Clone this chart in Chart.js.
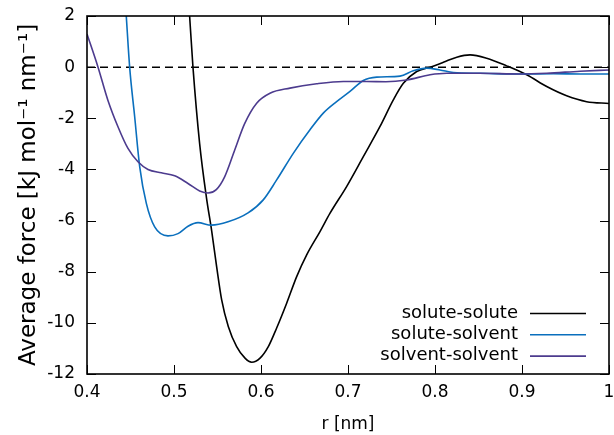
<!DOCTYPE html>
<html><head><meta charset="utf-8">
<script src="https://cdn.jsdelivr.net/npm/chart.js@4"></script>
<style>html,body{margin:0;padding:0;background:#fff}#wrap{width:614px;height:435px}</style>
</head><body><div id="wrap"><canvas id="c" width="614" height="435"></canvas></div>
<script>
const soluteSoluteX = [0.5145, 0.518, 0.5218, 0.5295, 0.5373, 0.5433, 0.549, 0.5548, 0.5624, 0.572, 0.5816, 0.5893, 0.5989, 0.6084, 0.618, 0.6295, 0.641, 0.6525, 0.6678, 0.6792, 0.6984, 0.7176, 0.7368, 0.7521, 0.7636, 0.779, 0.7943, 0.8096, 0.825, 0.8403, 0.8594, 0.8824, 0.9054, 0.9284, 0.9513, 0.9743, 1.0];
const soluteSoluteY = [3.5, 1.97, 0.0, -3.0, -5.1, -6.4, -7.8, -9.1, -10.14, -10.93, -11.38, -11.54, -11.38, -10.93, -10.2, -9.23, -8.19, -7.34, -6.43, -5.72, -4.67, -3.5, -2.32, -1.28, -0.63, -0.17, 0.0, 0.19, 0.39, 0.48, 0.35, 0.05, -0.3, -0.76, -1.12, -1.35, -1.42];
const soluteSolventX = [0.4415, 0.4452, 0.449, 0.4548, 0.4606, 0.4682, 0.4778, 0.4931, 0.5046, 0.5161, 0.5276, 0.5429, 0.5621, 0.5851, 0.6026, 0.618, 0.6371, 0.6563, 0.6716, 0.6869, 0.7023, 0.7176, 0.733, 0.7598, 0.775, 0.7904, 0.8057, 0.8211, 0.8517, 0.8977, 0.936, 0.9667, 1.0];
const soluteSolventY = [3.9, 1.97, 0.01, -1.94, -3.9, -5.33, -6.25, -6.6, -6.51, -6.22, -6.08, -6.18, -6.05, -5.7, -5.19, -4.41, -3.37, -2.45, -1.8, -1.35, -0.95, -0.52, -0.39, -0.35, -0.14, -0.04, -0.11, -0.21, -0.24, -0.27, -0.26, -0.27, -0.27];
const solventSolventX = [0.400, 0.4126, 0.424, 0.4356, 0.4471, 0.4586, 0.4701, 0.4854, 0.5008, 0.5161, 0.5295, 0.5391, 0.5486, 0.5582, 0.5697, 0.5812, 0.595, 0.6103, 0.6333, 0.664, 0.6946, 0.7215, 0.7436, 0.7674, 0.7943, 0.8134, 0.8517, 0.8977, 0.9284, 0.9667, 1.0];
const solventSolventY = [1.3, 0.01, -1.29, -2.33, -3.18, -3.7, -4.0, -4.13, -4.25, -4.55, -4.84, -4.92, -4.79, -4.29, -3.25, -2.21, -1.41, -1.02, -0.82, -0.65, -0.56, -0.56, -0.57, -0.5, -0.3, -0.24, -0.24, -0.27, -0.24, -0.16, -0.11];
const zeroLineX = [0.4, 1.0];
const zeroLineY = [0, 0];
const xTicks = [0.4, 0.5, 0.6, 0.7, 0.8, 0.9, 1.0];
const yTicks = [2, 0, -2, -4, -6, -8, -10, -12];
const seriesLabels = ['solute-solute', 'solute-solvent', 'solvent-solvent'];
const seriesColors = ['#000000', '#0a6fbd', '#4c3b8e'];

const pts = (xs, ys) => xs.map((x, i) => ({x, y: ys[i]}));
const FONT = 'DejaVu Sans';

const boxTicks = {
  id: 'boxTicks',
  afterDatasetsDraw(chart) {
    const {ctx, chartArea: a, scales} = chart;
    ctx.save();
    ctx.strokeStyle = '#000';
    ctx.lineWidth = 1;
    const L = 9;
    xTicks.forEach(v => {
      const p = Math.round(scales.x.getPixelForValue(v)) + 0.5;
      ctx.beginPath();
      ctx.moveTo(p, a.bottom); ctx.lineTo(p, a.bottom - L);
      ctx.moveTo(p, a.top); ctx.lineTo(p, a.top + L);
      ctx.stroke();
    });
    yTicks.forEach(v => {
      const p = Math.round(scales.y.getPixelForValue(v)) + 0.5;
      ctx.beginPath();
      ctx.moveTo(a.left, p); ctx.lineTo(a.left + L, p);
      ctx.moveTo(a.right, p); ctx.lineTo(a.right - L, p);
      ctx.stroke();
    });
    ctx.lineWidth = 1.6;
    ctx.strokeRect(a.left, a.top, a.right - a.left, a.bottom - a.top);
    // legend
    ctx.font = '18px "' + FONT + '"';
    ctx.textAlign = 'right';
    ctx.textBaseline = 'middle';
    seriesLabels.forEach((lab, i) => {
      const y = a.bottom - 61 + i * 21.3;
      ctx.fillStyle = '#000';
      ctx.fillText(lab, a.right - 91, y);
      ctx.strokeStyle = seriesColors[i];
      ctx.lineWidth = 1.6;
      ctx.beginPath();
      ctx.moveTo(a.right - 79, y + 0.5); ctx.lineTo(a.right - 23, y + 0.5);
      ctx.stroke();
    });
    ctx.restore();
  }
};

new Chart(document.getElementById('c'), {
  type: 'line',
  data: {
    datasets: [
      {label: seriesLabels[0], data: pts(soluteSoluteX, soluteSoluteY), borderColor: seriesColors[0], order: 3},
      {label: seriesLabels[1], data: pts(soluteSolventX, soluteSolventY), borderColor: seriesColors[1], order: 2},
      {label: seriesLabels[2], data: pts(solventSolventX, solventSolventY), borderColor: seriesColors[2], order: 1},
      {label: 'zero', data: pts(zeroLineX, zeroLineY), borderColor: '#000', borderDash: [8, 5], borderWidth: 1.5, cubicInterpolationMode: 'default', tension: 0, order: 10}
    ]
  },
  options: {
    responsive: false,
    animation: false,
    devicePixelRatio: 1,
    layout: {padding: {left: 0, right: 5, top: 16, bottom: 0}},
    elements: {
      point: {radius: 0},
      line: {borderWidth: 1.6, cubicInterpolationMode: 'monotone', fill: false}
    },
    plugins: {legend: {display: false}, tooltip: {enabled: false}},
    scales: {
      x: {
        type: 'linear', min: 0.4, max: 1.0,
        afterFit: s => { s.height = 61; s.paddingLeft = 0; s.paddingRight = 0; },
        afterBuildTicks: s => { s.ticks = xTicks.map(v => ({value: v})); },
        grid: {display: false, drawTicks: false},
        border: {display: false},
        ticks: {padding: 8, color: '#000', font: {family: FONT, size: 17}, maxRotation: 0,
          callback: v => (v === 1 ? '1' : v.toFixed(1))},
        title: {display: true, text: 'r [nm]', color: '#000', font: {family: FONT, size: 17}, padding: {top: 4, bottom: 0}}
      },
      y: {
        type: 'linear', min: -12, max: 2,
        afterFit: s => { s.width = 87; s.paddingTop = 0; s.paddingBottom = 0; },
        afterBuildTicks: s => { s.ticks = yTicks.map(v => ({value: v})); },
        grid: {display: false, drawTicks: false},
        border: {display: false},
        ticks: {padding: 12, color: '#000', font: {family: FONT, size: 17}},
        title: {display: true, text: 'Average force [kJ mol⁻¹ nm⁻¹]', color: '#000', font: {family: FONT, size: 23}, padding: {top: 15, bottom: 0}}
      }
    }
  },
  plugins: [boxTicks]
});
</script></body></html>
